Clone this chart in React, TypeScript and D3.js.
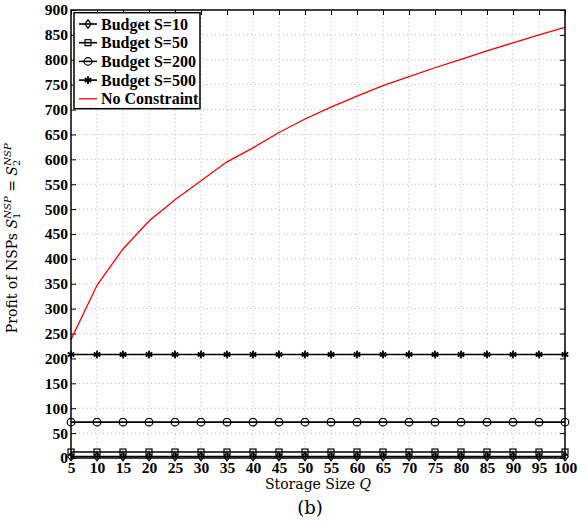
import React, { useEffect, useRef } from "react";
import * as d3 from "d3";

// storage size Q (x axis)
const storageQ = [5, 10, 15, 20, 25, 30, 35, 40, 45, 50, 55, 60, 65, 70, 75, 80, 85, 90, 95, 100];
// profit per budget
const budget10 = [3, 3, 3, 3, 3, 3, 3, 3, 3, 3, 3, 3, 3, 3, 3, 3, 3, 3, 3, 3];
const budget50 = [12, 12, 12, 12, 12, 12, 12, 12, 12, 12, 12, 12, 12, 12, 12, 12, 12, 12, 12, 12];
const budget200 = [72, 72, 72, 72, 72, 72, 72, 72, 72, 72, 72, 72, 72, 72, 72, 72, 72, 72, 72, 72];
const budget500 = [208, 208, 208, 208, 208, 208, 208, 208, 208, 208, 208, 208, 208, 208, 208, 208, 208, 208, 208, 208];
const noConstraint = [238, 347, 420, 476, 519, 557, 595, 623, 654, 681, 705, 727, 748, 766, 784, 801, 818, 834, 850, 865];

const xTicks = storageQ;
const yTicks = [0, 50, 100, 150, 200, 250, 300, 350, 400, 450, 500, 550, 600, 650, 700, 750, 800, 850, 900];

const seriesNames = ["Budget S=10", "Budget S=50", "Budget S=200", "Budget S=500", "No Constraint"];
const seriesData = [budget10, budget50, budget200, budget500, noConstraint];
const seriesMarkers = ["diamond", "square", "circle", "star", "none"];
const seriesColors = ["#000", "#000", "#000", "#000", "#ff0000"];

const FONT = "'Liberation Serif', 'Times New Roman', serif";
const LABEL_FONT = "'DejaVu Serif', serif";

export default function App() {
  const ref = useRef<SVGSVGElement>(null);

  useEffect(() => {
    const svg = d3.select(ref.current);
    svg.selectAll("*").remove();

    const left = 71, right = 565, top = 10, bottom = 458;
    const x = d3.scaleLinear().domain([5, 100]).range([left, right]);
    const y = d3.scaleLinear().domain([0, 900]).range([bottom, top]);

    // grid
    const grid = svg.append("g").attr("stroke", "#b8b8b8").attr("stroke-width", 1).attr("stroke-dasharray", "1,3");
    grid.selectAll("line.gx")
      .data(xTicks.slice(1, -1))
      .enter().append("line")
      .attr("x1", d => x(d)).attr("x2", d => x(d))
      .attr("y1", top).attr("y2", bottom);
    grid.selectAll("line.gy")
      .data(yTicks.slice(1, -1))
      .enter().append("line")
      .attr("y1", d => y(d)).attr("y2", d => y(d))
      .attr("x1", left).attr("x2", right);

    // axes with inward ticks
    const styleAxis = (g: any) => {
      g.select(".domain").remove();
      g.selectAll(".tick line").attr("stroke", "#000").attr("stroke-width", 1);
      g.selectAll(".tick text")
        .attr("font-family", FONT).attr("font-weight", "bold")
        .attr("font-size", 15.5).attr("fill", "#000");
    };
    svg.append("g").attr("transform", `translate(${left},0)`)
      .call(d3.axisLeft(y).tickValues(yTicks).tickSizeInner(-5).tickSizeOuter(0).tickPadding(3))
      .call(styleAxis);
    svg.append("g").attr("transform", `translate(0,${bottom})`)
      .call(d3.axisBottom(x).tickValues(xTicks).tickSizeInner(-5).tickSizeOuter(0).tickPadding(4))
      .call(styleAxis);
    svg.append("g").attr("transform", `translate(${right},0)`)
      .call(d3.axisRight(y).tickValues(yTicks).tickSizeInner(-5).tickSizeOuter(0).tickFormat(() => ""))
      .call(styleAxis);
    svg.append("g").attr("transform", `translate(0,${top})`)
      .call(d3.axisTop(x).tickValues(xTicks).tickSizeInner(-5).tickSizeOuter(0).tickFormat(() => ""))
      .call(styleAxis);

    const drawMarker = (g: any, kind: string, cx: number, cy: number) => {
      if (kind === "circle") {
        g.append("circle").attr("cx", cx).attr("cy", cy).attr("r", 3.8)
          .attr("fill", "none").attr("stroke", "#000").attr("stroke-width", 1.2);
      } else if (kind === "square") {
        g.append("rect").attr("x", cx - 3).attr("y", cy - 3).attr("width", 6).attr("height", 6)
          .attr("fill", "none").attr("stroke", "#000").attr("stroke-width", 1.2);
      } else if (kind === "diamond") {
        g.append("path")
          .attr("d", `M${cx},${cy - 4.2}L${cx + 3.2},${cy}L${cx},${cy + 4.2}L${cx - 3.2},${cy}Z`)
          .attr("fill", "none").attr("stroke", "#000").attr("stroke-width", 1.2);
      } else if (kind === "star") {
        g.append("path")
          .attr("d", d3.symbol().type(d3.symbolAsterisk).size(40)())
          .attr("transform", `translate(${cx},${cy})`)
          .attr("fill", "none").attr("stroke", "#000").attr("stroke-width", 1.8);
      }
    };

    // series
    const line = d3.line<number>().x((d, i) => x(storageQ[i])).y(d => y(d));
    seriesData.forEach((vals, k) => {
      const g = svg.append("g");
      g.append("path").attr("d", line(vals))
        .attr("fill", "none").attr("stroke", seriesColors[k])
        .attr("stroke-width", k === 4 ? 1.3 : 1.6);
      if (seriesMarkers[k] !== "none") {
        vals.forEach((v, i) => drawMarker(g, seriesMarkers[k], x(storageQ[i]), y(v)));
      }
    });

    // frame
    svg.append("rect").attr("x", left).attr("y", top)
      .attr("width", right - left).attr("height", bottom - top)
      .attr("fill", "none").attr("stroke", "#000").attr("stroke-width", 1.5);

    // legend
    const lg = svg.append("g");
    lg.append("rect").attr("x", 74).attr("y", 12.7).attr("width", 126).attr("height", 96)
      .attr("fill", "#fff").attr("stroke", "#000").attr("stroke-width", 1.5);
    seriesNames.forEach((name, k) => {
      const ly = 24 + k * 18.7;
      lg.append("line").attr("x1", 79).attr("x2", 97).attr("y1", ly).attr("y2", ly)
        .attr("stroke", seriesColors[k]).attr("stroke-width", k === 4 ? 1.3 : 1.6);
      drawMarker(lg, seriesMarkers[k], 88, ly);
      lg.append("text").attr("x", 101).attr("y", ly + 5.5)
        .attr("font-family", FONT).attr("font-weight", "bold").attr("font-size", 16)
        .text(name);
    });

    // x label
    const xl = svg.append("text").attr("x", (left + right) / 2).attr("y", 489)
      .attr("text-anchor", "middle").attr("font-family", LABEL_FONT).attr("font-size", 14);
    xl.append("tspan").text("Storage Size ");
    xl.append("tspan").attr("font-style", "italic").text("Q");

    // y label
    const yl = svg.append("text")
      .attr("transform", `translate(17,${(top + bottom) / 2 + 2}) rotate(-90)`)
      .attr("text-anchor", "middle").attr("font-family", LABEL_FONT).attr("font-size", 14);
    yl.append("tspan").text("Profit of NSPs ");
    const sTerm = (sub: string) => {
      yl.append("tspan").attr("font-style", "italic").text("S");
      yl.append("tspan").attr("font-size", 10).attr("dy", 3).text(sub);
      yl.append("tspan").attr("font-size", 10).attr("font-style", "italic").attr("dx", -6).attr("dy", -9).text("NSP");
      yl.append("tspan").attr("dy", 6).text("\u00a0");
    };
    sTerm("1");
    yl.append("tspan").text("= ");
    sTerm("2");

    // caption
    svg.append("text").attr("x", 310).attr("y", 514).attr("text-anchor", "middle")
      .attr("font-family", LABEL_FONT).attr("font-size", 18).text("(b)");
  }, []);

  return (
    <svg ref={ref} width={587} height={532}
      style={{ position: "absolute", left: 0, top: 0, background: "#fff" }} />
  );
}
